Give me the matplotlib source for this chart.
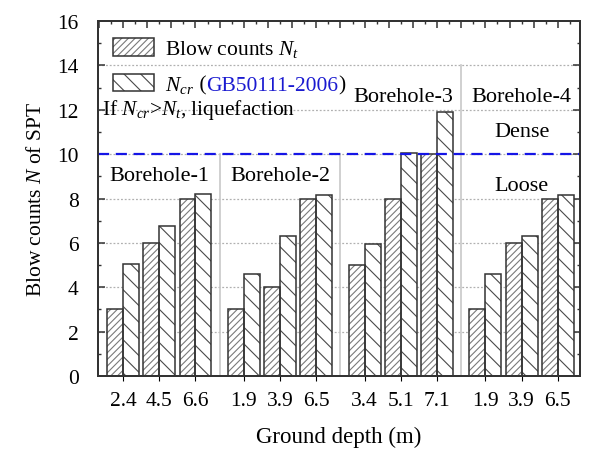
import numpy as np
import matplotlib
matplotlib.use("Agg")
import matplotlib.pyplot as plt
from matplotlib.patches import Patch
from matplotlib.ticker import MultipleLocator

plt.rcParams['font.family'] = ['Liberation Serif', 'DejaVu Serif']
plt.rcParams['mathtext.fontset'] = 'custom'
plt.rcParams['mathtext.rm'] = 'Liberation Serif'
plt.rcParams['mathtext.it'] = 'Liberation Serif:italic'
plt.rcParams['hatch.linewidth'] = 0.8

# ---- data ----
boreholes = ['Borehole-1', 'Borehole-2', 'Borehole-3', 'Borehole-4']
depth_labels = ['2.4', '4.5', '6.6', '1.9', '3.9', '6.5',
                '3.4', '5.1', '7.1', '1.9', '3.9', '6.5']
nt_values = [3, 6, 8, 3, 4, 8, 5, 8, 10, 3, 6, 8]
ncr_values = [5.05, 6.75, 8.2, 4.6, 6.3, 8.15, 5.93, 10.05, 11.9, 4.6, 6.3, 8.15]
threshold = 10

# ---- layout of groups ----
per_bh = 3
bh_step = 10 / 3
bw = 0.44
idx = np.arange(len(depth_labels))
xc = (idx // per_bh) * bh_step + (idx % per_bh)

fig = plt.figure(figsize=(5.89, 4.52), dpi=100)
ax = fig.add_axes([0.1664, 0.1659, 0.9847 - 0.1664, 0.9513 - 0.1659])

edge = '#333333'
nt_hatch_col = '#7a7a7a'
ncr_hatch_col = '#4a4a4a'
FS = 16
LFS = 15.5

# grid
for g in range(2, 16, 2):
    ax.axhline(g, color='#b0b0b0', lw=0.9, ls=(0, (1.5, 1.5)), zorder=0)

# separators
seps = [(xc[(k + 1) * per_bh - 1] + xc[(k + 1) * per_bh]) / 2 for k in range(3)]
sep_tops = [10, 10, 14]
for s, t in zip(seps, sep_tops):
    ax.plot([s, s], [0, t], color='#c8c8c8', lw=1.2, zorder=0.5)

# bars: hatch layer + outline layer
ax.bar(xc - bw / 2, nt_values, width=bw, facecolor='white', edgecolor=nt_hatch_col,
       hatch='/////', lw=0, zorder=2)
ax.bar(xc - bw / 2, nt_values, width=bw, fill=False, edgecolor=edge, lw=1.1, zorder=3)
ax.bar(xc + bw / 2, ncr_values, width=bw, facecolor='white', edgecolor=ncr_hatch_col,
       hatch='\\\\', lw=0, zorder=2)
ax.bar(xc + bw / 2, ncr_values, width=bw, fill=False, edgecolor=edge, lw=1.1, zorder=3)

# threshold line
ax.axhline(threshold, color='#1515e6', lw=1.6, ls=(0, (5, 3)), zorder=4)

ax.set_xlim(xc[0] - 0.69, xc[-1] + 0.61)
ax.set_ylim(0, 16)

# ticks
ax.set_xticks(xc)
ax.set_xticklabels(depth_labels, fontsize=15.5)
ax.tick_params(axis='x', bottom=False, top=False, pad=7)
ax.yaxis.set_major_locator(MultipleLocator(2))
ax.yaxis.set_minor_locator(MultipleLocator(1))
ax.tick_params(axis='y', which='both', direction='in', left=True, right=True,
               labelsize=15.5, pad=14, color='#333333')
ax.tick_params(axis='y', which='major', length=5, width=1.1)
ax.tick_params(axis='y', which='minor', length=2.5, width=1.0)

ax2 = ax.twiny()
ax2.set_xlim(ax.get_xlim())
ax2.xaxis.set_major_locator(MultipleLocator(2 / 3))
ax2.xaxis.set_minor_locator(MultipleLocator(1 / 3))
ax2.tick_params(axis='x', which='both', direction='in', top=True, bottom=False,
                labeltop=False, labelbottom=False, color='#333333')
ax2.tick_params(axis='x', which='major', length=5, width=1.1)
ax2.tick_params(axis='x', which='minor', length=2.5, width=1.0)

for a in (ax, ax2):
    for sp in a.spines.values():
        sp.set_linewidth(1.4)
        sp.set_color('#333333')

ax.set_xlabel('Ground depth (m)', fontsize=16.5, labelpad=12)
ax.set_ylabel(r'Blow counts $N$ of SPT', fontsize=15.5, labelpad=8)

# borehole labels
bh_centers = [xc[k * per_bh + 1] for k in range(4)]
bh_y = [9.05, 9.05, 12.6, 12.6]
bh_dx = [0, 0, 0.08, 0]
for name, cx, cy, dx in zip(boreholes, bh_centers, bh_y, bh_dx):
    ax.text(cx + dx, cy, name, ha='center', va='center', fontsize=FS, zorder=5)
ax.text(bh_centers[3], 11.0, 'Dense', ha='center', va='center', fontsize=FS)
ax.text(bh_centers[3], 8.6, 'Loose', ha='center', va='center', fontsize=FS)

# legend
h_nt = (Patch(facecolor='white', edgecolor=nt_hatch_col, hatch='/////', lw=0),
        Patch(fill=False, edgecolor=edge, lw=1.1))
h_ncr = (Patch(facecolor='white', edgecolor=ncr_hatch_col, hatch='\\\\', lw=0),
         Patch(fill=False, edgecolor=edge, lw=1.1))
leg = ax.legend([h_nt, h_ncr], [r'Blow counts $N_t$', r'$N_{cr}$'],
                loc='upper left', bbox_to_anchor=(0.031, 0.952), frameon=False,
                fontsize=LFS, handlelength=1.9, handleheight=0.9,
                handletextpad=0.5, labelspacing=0.66, borderpad=0, borderaxespad=0)
t2 = leg.get_texts()[1]
a1 = ax.annotate(' (', xy=(1, 0), xycoords=t2, va='bottom', ha='left', fontsize=LFS,
                 zorder=7)
a2 = ax.annotate('GB50111-2006', xy=(1, 0), xycoords=a1, va='bottom', ha='left',
                 fontsize=LFS, color='#1a1ad0', zorder=8)
a3 = ax.annotate(')', xy=(1, 0), xycoords=a2, va='bottom', ha='left', fontsize=LFS,
                 zorder=9)

ax.text(xc[0] - 0.58, 12.05, r'If $N_{cr}$>$N_t$, liquefaction', ha='left',
        va='center', fontsize=LFS)

fig.savefig('out.png', dpi=100)
